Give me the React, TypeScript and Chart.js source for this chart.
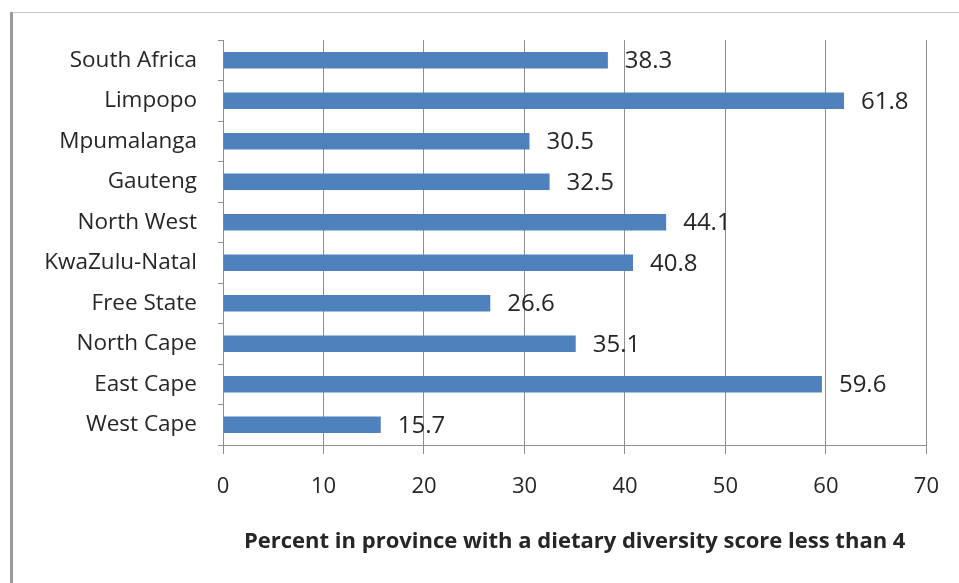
import React, { useEffect, useRef } from "react";
import { Chart, registerables } from "chart.js";

Chart.register(...registerables);

const categories = [
  "South Africa",
  "Limpopo",
  "Mpumalanga",
  "Gauteng",
  "North West",
  "KwaZulu-Natal",
  "Free State",
  "North Cape",
  "East Cape",
  "West Cape",
];
const values = [38.3, 61.8, 30.5, 32.5, 44.1, 40.8, 26.6, 35.1, 59.6, 15.7];
const xMin = 0;
const xMax = 70;
const xStep = 10;
const xTitle = "Percent in province with a dietary diversity score less than 4";

const FONT = "'Open Sans', 'DejaVu Sans', sans-serif";
const TEXT = "#262626";
const GRID = "#8f8f8f";
const BAR = "#4F81BD";

const valueLabels = {
  id: "valueLabels",
  afterDatasetsDraw(chart: any) {
    const ctx = chart.ctx;
    const meta = chart.getDatasetMeta(0);
    ctx.save();
    ctx.font = `24px ${FONT}`;
    ctx.fillStyle = TEXT;
    ctx.textAlign = "left";
    ctx.textBaseline = "middle";
    meta.data.forEach((bar: any, i: number) => {
      const v = chart.data.datasets[0].data[i] as number;
      ctx.fillText(v.toFixed(1), bar.x + 17, bar.y + 1);
    });
    ctx.restore();
  },
};

export default function App() {
  const ref = useRef<HTMLCanvasElement | null>(null);

  useEffect(() => {
    if (!ref.current) return;
    const chart = new Chart(ref.current, {
      type: "bar",
      data: {
        labels: categories,
        datasets: [
          {
            data: values,
            backgroundColor: BAR,
            borderWidth: 0,
            categoryPercentage: 1,
            barPercentage: 0.41,
          },
        ],
      },
      options: {
        indexAxis: "y",
        animation: false,
        responsive: false,
        devicePixelRatio: 1,
        layout: { padding: { top: 40, right: 25, left: 0, bottom: 0 } },
        plugins: {
          legend: { display: false },
          tooltip: { enabled: false },
          title: { display: false },
        },
        scales: {
          x: {
            min: xMin,
            max: xMax,
            afterFit(scale: any) {
              scale.height = 138;
            },
            ticks: {
              stepSize: xStep,
              color: TEXT,
              font: { family: FONT, size: 22 },
              padding: 20,
            },
            grid: {
              color: GRID,
              lineWidth: 1,
              tickLength: 9,
              drawTicks: true,
            },
            border: { display: true, color: GRID, width: 1 },
            title: {
              display: true,
              text: xTitle,
              color: TEXT,
              font: { family: FONT, size: 22, weight: "bold" },
              padding: { top: 0, bottom: 28 },
            },
          },
          y: {
            afterFit(scale: any) {
              scale.width = 223;
            },
            ticks: {
              color: TEXT,
              font: { family: FONT, size: 22.5 },
              padding: 21,
            },
            grid: {
              drawOnChartArea: false,
              drawTicks: true,
              tickLength: 5,
              color: GRID,
              offset: true,
            },
            border: { display: true, color: GRID, width: 1 },
          },
        },
      },
      plugins: [valueLabels],
    });
    return () => chart.destroy();
  }, []);

  return (
    <div
      style={{
        position: "absolute",
        left: 0,
        top: 0,
        width: 959,
        height: 583,
        background: "#ffffff",
        overflow: "hidden",
      }}
    >
      <canvas
        ref={ref}
        width={959}
        height={583}
        style={{ position: "absolute", left: 0, top: 0, width: 959, height: 583 }}
      />
      <div
        style={{
          position: "absolute",
          left: 10,
          top: 12,
          width: 3,
          height: 571,
          background: "#9a9a9a",
        }}
      />
      <div
        style={{
          position: "absolute",
          left: 13,
          top: 12,
          width: 946,
          height: 1,
          background: "#c8c8c8",
        }}
      />
    </div>
  );
}
